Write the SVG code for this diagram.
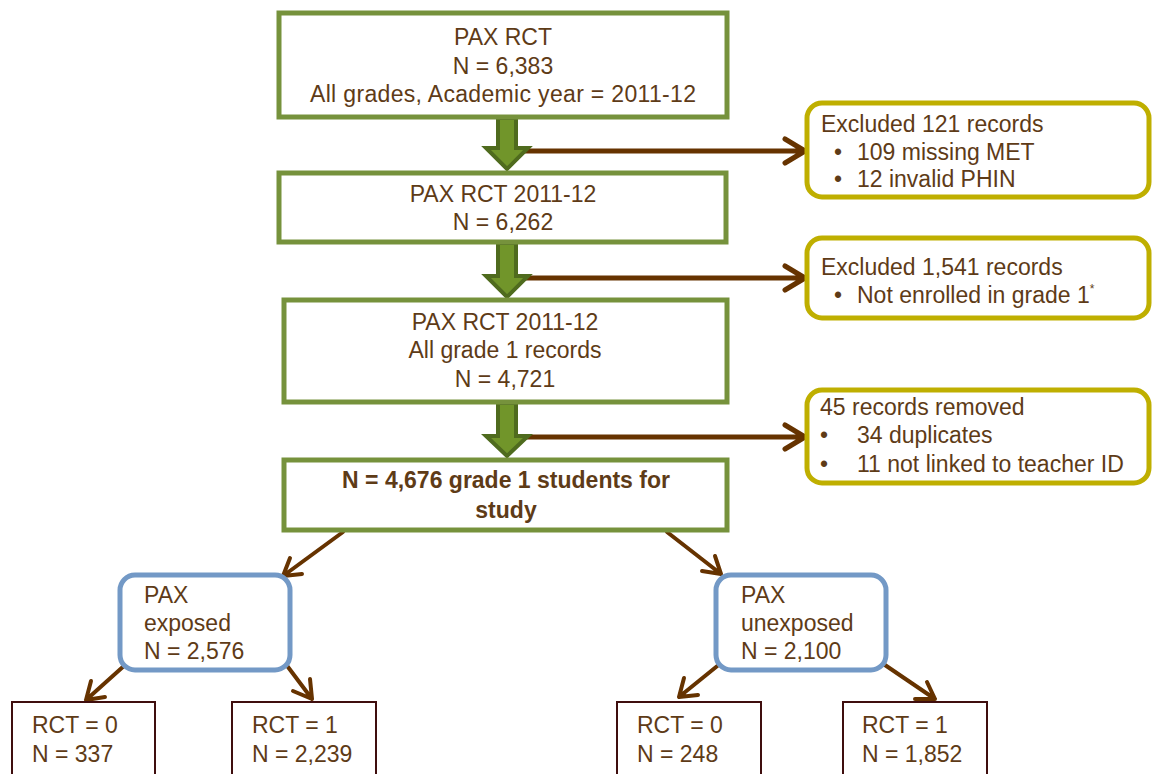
<svg xmlns="http://www.w3.org/2000/svg" width="1152" height="774" viewBox="0 0 1152 774">
<style>
text{font-family:"Liberation Sans",Arial,sans-serif;font-size:23px;fill:#5E3B17}
.c{text-anchor:middle}
.b{font-weight:bold}
.g{fill:#fff;stroke:#76923C;stroke-width:5}
.y{fill:#fff;stroke:#BFAF00;stroke-width:5}
.bl{fill:#fff;stroke:#7399C6;stroke-width:5}
.r{fill:#fff;stroke:#3F0E0E;stroke-width:2}
.blk{fill:#71952A;stroke:#4F6B1E;stroke-width:4;stroke-linejoin:miter}
.con{fill:none;stroke:#663300;stroke-width:5;stroke-linecap:round;stroke-linejoin:round}
.con2{fill:none;stroke:#663300;stroke-width:4;stroke-linecap:round;stroke-linejoin:round}
</style>
<rect width="1152" height="774" fill="#fff"/>
<g id="connectors">
<path class="con" d="M524,151 H805 M785,139 L805,151 L785,163"/>
<path class="con" d="M524,278 H805 M785,266 L805,278 L785,290"/>
<path class="con" d="M524,437 H805 M785,425 L805,437 L785,449"/>
<polygon class="blk" points="498,118 516,118 516,148 528,148 507,169 486,148 498,148"/>
<polygon class="blk" points="498,243 516,243 516,276 528,276 507,297 486,276 498,276"/>
<polygon class="blk" points="498,403 516,403 516,436 528,436 507,456 486,436 498,436"/>
<path class="con2" d="M343,532 L283,576 M290,558 L283,576 L302,574"/>
<path class="con2" d="M667,532 L721,574 M702,571 L721,574 L715,556"/>
<path class="con2" d="M125,665 L86,700 M91,681 L86,700 L105,697"/>
<path class="con2" d="M285,663 L312,699 M293,691 L312,699 L310,679"/>
<path class="con2" d="M721,663 L679,697 M684,678 L679,697 L698,695"/>
<path class="con2" d="M882,663 L935,699 M915,699 L935,699 L927,682"/>
</g>
<g id="n1">
<rect class="g" x="279" y="13" width="448" height="104"/>
<text class="c" x="503" y="45">PAX RCT</text>
<text class="c" x="503" y="74">N = 6,383</text>
<text class="c" x="503" y="102" textLength="386" lengthAdjust="spacing">All grades, Academic year = 2011-12</text>
</g>
<g id="n2">
<rect class="g" x="279" y="173" width="447" height="69"/>
<text class="c" x="503" y="202">PAX RCT 2011-12</text>
<text class="c" x="503" y="230">N = 6,262</text>
</g>
<g id="n3">
<rect class="g" x="284" y="300" width="443" height="102"/>
<text class="c" x="505" y="330">PAX RCT 2011-12</text>
<text class="c" x="505" y="358">All grade 1 records</text>
<text class="c" x="505" y="387">N = 4,721</text>
</g>
<g id="n4">
<rect class="g" x="284" y="460" width="443" height="70"/>
<text class="c b" x="506" y="488">N = 4,676 grade 1 students for</text>
<text class="c b" x="506" y="518">study</text>
</g>
<g id="e1">
<rect class="y" x="807" y="103" width="342" height="94" rx="15"/>
<text x="821" y="132">Excluded 121 records</text>
<text x="834" y="160">•</text><text x="857" y="160">109 missing MET</text>
<text x="834" y="187">•</text><text x="857" y="187">12 invalid PHIN</text>
</g>
<g id="e2">
<rect class="y" x="807" y="238" width="342" height="80" rx="15"/>
<text x="821" y="275">Excluded 1,541 records</text>
<text x="834" y="303">•</text><text x="857" y="303">Not enrolled in grade 1<tspan font-size="12" dy="-10">*</tspan></text>
</g>
<g id="e3">
<rect class="y" x="807" y="390" width="342" height="93" rx="15"/>
<text x="820" y="415">45 records removed</text>
<text x="820" y="443">•</text><text x="857" y="443">34 duplicates</text>
<text x="820" y="472">•</text><text x="857" y="472">11 not linked to teacher ID</text>
</g>
<g id="p1">
<rect class="bl" x="120" y="575" width="170" height="95" rx="15"/>
<text x="144" y="603">PAX</text>
<text x="144" y="631">exposed</text>
<text x="144" y="659">N = 2,576</text>
</g>
<g id="p2">
<rect class="bl" x="716" y="575" width="170" height="95" rx="15"/>
<text x="741" y="603">PAX</text>
<text x="741" y="631">unexposed</text>
<text x="741" y="659">N = 2,100</text>
</g>
<g id="r1">
<rect class="r" x="12" y="702" width="143" height="90"/>
<text x="32" y="733">RCT = 0</text>
<text x="32" y="762">N = 337</text>
</g>
<g id="r2">
<rect class="r" x="232" y="702" width="144" height="90"/>
<text x="252" y="733">RCT = 1</text>
<text x="252" y="762">N = 2,239</text>
</g>
<g id="r3">
<rect class="r" x="617" y="702" width="144" height="90"/>
<text x="637" y="733">RCT = 0</text>
<text x="637" y="762">N = 248</text>
</g>
<g id="r4">
<rect class="r" x="843" y="702" width="144" height="90"/>
<text x="862" y="733">RCT = 1</text>
<text x="862" y="762">N = 1,852</text>
</g>
</svg>
